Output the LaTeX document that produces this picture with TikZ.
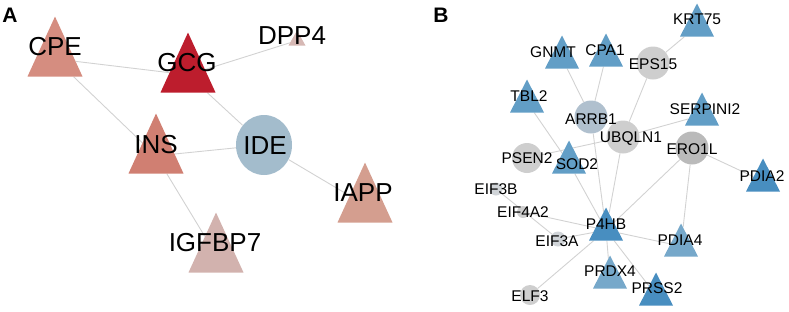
\documentclass[tikz,border=0pt]{standalone}
\usepackage{fontspec}
\setmainfont{Liberation Sans}
\usetikzlibrary{shapes.geometric}
\definecolor{edgegray}{RGB}{210,210,210}
\definecolor{cpeC}{RGB}{213,141,128}
\definecolor{gcgC}{RGB}{189,29,45}
\definecolor{insC}{RGB}{208,127,114}
\definecolor{ideC}{RGB}{163,188,204}
\definecolor{iappC}{RGB}{212,158,143}
\definecolor{igfC}{RGB}{210,178,174}
\definecolor{dppC}{RGB}{214,184,180}
\definecolor{blueM}{RGB}{98,158,198}
\definecolor{blueD}{RGB}{72,142,192}
\definecolor{blueL}{RGB}{118,168,202}
\definecolor{grayL}{RGB}{206,206,206}
\definecolor{grayD}{RGB}{186,186,186}
\definecolor{grayB}{RGB}{176,192,206}
\definecolor{grayE}{RGB}{208,212,216}
\pgfdeclarelayer{back}
\pgfsetlayers{back,main}
\tikzset{
	tri/.style={isosceles triangle, isosceles triangle stretches,
		shape border rotate=90, anchor=apex, inner sep=0pt,
		minimum width=55pt, minimum height=60pt},
	smalltri/.style={tri, minimum width=34pt, minimum height=33pt},
	dot/.style={circle, inner sep=0pt, minimum size=#1},
	biglabel/.style={font=\fontsize{26}{26}\selectfont, inner sep=0pt},
	smalllabel/.style={font=\fontsize{15.5}{15.5}\selectfont, inner sep=0pt},
	panel/.style={font=\fontsize{21}{21}\selectfont\bfseries, inner sep=0pt},
	link/.style={draw=edgegray, line width=0.9pt}
}

\begin{document}
\begin{tikzpicture}[x=1pt,y=-1pt]
	\useasboundingbox (0,0) rectangle (789,311);
	\node[panel] (pA) at (10,15) {A};
	\node[panel] (pB) at (441,15) {B};
	% panel A
	\foreach \n/\p/\c in {cpe/{55,16}/cpeC, gcg/{188,32}/gcgC, ins/{156,113}/insC,
		iapp/{365,162}/iappC, igf/{216,212}/igfC}
		\node[tri, fill=\c] (\n) at (\p) {};
	\node[tri, fill=dppC, minimum width=17pt, minimum height=15pt] (dpp) at (297,30) {};
	\node[ellipse, fill=ideC, inner sep=0pt, minimum width=56pt, minimum height=60pt] (ide) at (264,145) {};
	% panel B
	\foreach \n/\p/\c in {krt/{697,3}/blueM, gnmt/{562,35}/blueM, cpa/{606,33}/blueM,
		tbl/{527,79}/blueM, serp/{702,92}/blueM, sod/{569,140}/blueM,
		p4hb/{606,207}/blueD, pdiaf/{681,223}/blueL, prdx/{610,255}/blueL,
		prss/{656,272}/blueD, pdiat/{763,158}/blueD}
		\node[smalltri, fill=\c] (\n) at (\p) {};
	\foreach \n/\p/\c/\s in {eps/{653,63}/grayL/33pt, arrb/{591,117}/grayB/33pt,
		ubq/{623,137}/grayL/33pt, ero/{692,148}/grayD/33pt, psen/{527,158}/grayL/30pt,
		eifb/{496,189}/grayE/13pt, eifa/{523,212}/grayL/12pt, eift/{558,239}/grayE/15pt,
		elf/{530,295}/grayL/20pt}
		\node[dot=\s, fill=\c] (\n) at (\p) {};
	\begin{pgfonlayer}{back}
		\foreach \a/\b in {cpe/gcg, cpe/ins, gcg/dpp, gcg/ide, ins/ide, ins/igf, ide/iapp,
			krt/eps, gnmt/arrb, cpa/arrb, eps/ubq, serp/ubq, psen/ubq, tbl/sod, sod/p4hb,
			arrb/p4hb, ubq/p4hb, ero/p4hb, ero/pdiat, ero/pdiaf, eifb/eift, eifa/p4hb,
			eift/p4hb, elf/p4hb, p4hb/pdiaf, p4hb/prdx, p4hb/prss}
			\draw[link] (\a) -- (\b);
	\end{pgfonlayer}
	% labels
	\foreach \n/\t/\p in {cpe/CPE/{55,47}, gcg/GCG/{187,63}, dpp/DPP4/{292,36},
		ins/INS/{156,145}, ide/IDE/{265,146}, iapp/IAPP/{363,193}, igf/IGFBP7/{215,243}}
		\node[biglabel] (\n-l) at (\p) {\t};
	\foreach \n/\t/\p in {krt/KRT75/{697,19}, gnmt/GNMT/{553,52}, cpa/CPA1/{605,50},
		eps/EPS15/{653,64}, tbl/TBL2/{529,96}, serp/SERPINI2/{705,109},
		arrb/ARRB1/{591,119}, ubq/UBQLN1/{631,139}, ero/ERO1L/{692,149},
		psen/PSEN2/{527,158}, sod/SOD2/{577,164}, pdiat/PDIA2/{762,176},
		eifb/EIF3B/{496,189}, eifa/EIF4A2/{523,212}, p4hb/P4HB/{606,224},
		eift/EIF3A/{557,241}, pdiaf/PDIA4/{680,240}, prdx/PRDX4/{610,271},
		prss/PRSS2/{657,288}, elf/ELF3/{530,296}}
		\node[smalllabel] (\n-l) at (\p) {\t};
\end{tikzpicture}
\end{document}
